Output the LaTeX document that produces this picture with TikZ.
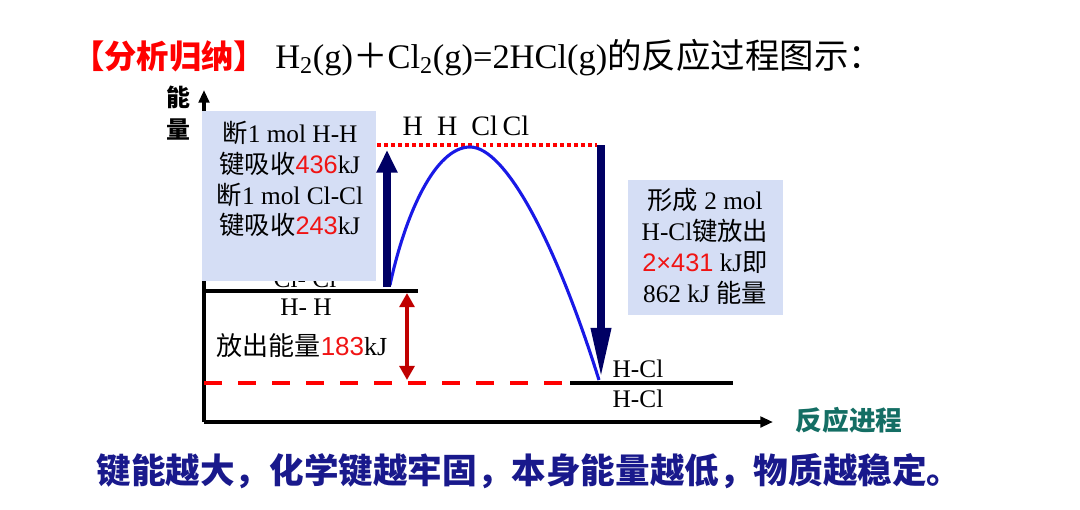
\documentclass[tikz,border=0pt]{standalone}
\usepackage{fontspec}
\setmainfont{Liberation Serif}
\newfontfamily\cjk{Noto Sans CJK SC}
\newfontfamily\numfont{Liberation Sans}
\usepackage{tikz}
\usetikzlibrary{positioning}
\usetikzlibrary{arrows.meta}
\definecolor{boxblue}{RGB}{213,222,245}
\definecolor{navy}{RGB}{0,0,100}
\definecolor{curveblue}{RGB}{25,25,230}
\definecolor{darkred}{RGB}{192,0,0}
\definecolor{valred}{RGB}{240,20,20}
\definecolor{stepteal}{RGB}{20,110,100}
\definecolor{notenavy}{RGB}{25,25,140}
\newcommand\redval[1]{{\numfont\color{valred}#1}}
\tikzset{
  txt/.style = {inner sep=0pt, font=\fontsize{18}{22}\selectfont},
  boxtxt/.style = {txt, align=center},
  infobox/.style = {fill=boxblue, draw=none},% light blue panel
  level/.style = {line width=2.8pt, black},% energy level
  axis/.style = {line width=2.6pt, black,
    -{Triangle[length=9pt,width=7.5pt]}},
  bigarrow/.style = {navy, line width=6pt},
  gap/.style = {darkred, line width=2.8pt,
    {Triangle[length=10pt,width=10.5pt]}-{Triangle[length=10pt,width=10.5pt]}}
}
\begin{document}
\begin{tikzpicture}[x=0.025cm,y=-0.025cm]
\useasboundingbox (0,0) rectangle (1080,509);
% points of the diagram
\coordinate (origin) at (204,422);
\coordinate (ytop) at (204,90);
\coordinate (xend) at (773,422);
\coordinate (reactL) at (204,291);
\coordinate (reactR) at (418,291);
\coordinate (dashL) at (204,383);
\coordinate (prodL) at (570,383);
\coordinate (prodR) at (733,383);
\coordinate (atomL) at (363,145);
\coordinate (atomR) at (597,145);
\coordinate (upS) at (387,287);
\coordinate (upT) at (387,150);
\coordinate (downS) at (601,145);
\coordinate (downT) at (601,380);
\coordinate (gapT) at (407,293);
\coordinate (gapB) at (407,380);
\coordinate (curveS) at (390,285);
\coordinate (peak) at (470,147);
\coordinate (curveE) at (599,380);

% title
\node[txt, anchor=base west, font=\fontsize{23}{27}\selectfont\cjk\bfseries,
  text=red] (tag) at (72,68) {【分析归纳】};
\node[txt, base right=6pt of tag, font=\fontsize{24.5}{28}\selectfont] (title)
  {H\textsubscript{2}(g){\cjk ＋}Cl\textsubscript{2}(g)=2HCl(g){\cjk 的反应过程图示：}};

% axes
\draw[axis] (origin) -- (ytop);
\draw[axis] (origin) -- (xend);
\node[txt, font=\fontsize{17}{20}\selectfont\cjk\bfseries] (ylab1) at (178,97) {能};
\node[txt, font=\fontsize{17}{20}\selectfont\cjk\bfseries] (ylab2) at (178,129) {量};
\node[txt, font=\fontsize{19}{22}\selectfont\cjk\bfseries, text=stepteal]
  (xlab) at (849,420) {反应进程};

% levels
\node[txt, anchor=base] (clcl) at (305,287) {Cl- Cl};
\draw[level] (reactL) -- (reactR);
\node[txt, anchor=base] (hh) at (306,315) {H- H};
\draw[red, line width=2.8pt, dash pattern=on 12.8pt off 11.4pt] (dashL) -- (prodL);
\draw[level] (prodL) -- (prodR);
\node[txt, anchor=base] (hcl1) at (638,377) {H-Cl};
\node[txt, anchor=base] (hcl2) at (638,407) {H-Cl};
\draw[red, line width=2.8pt, dash pattern=on 2.8pt off 2.2pt] (atomL) -- (atomR);
\node[txt, anchor=base, font=\fontsize{20}{24}\selectfont] (atoms) at (466,135)
  {H\,\,\,H\,\,\,Cl\,Cl};

% released energy
\draw[gap] (gapT) -- (gapB);
\node[txt, anchor=base, font=\fontsize{18.5}{22}\selectfont] (heat) at (302,355)
  {{\cjk 放出能量}\redval{183}kJ};

% reaction path
\draw[curveblue, line width=2.2pt] (curveS) .. controls (405,215) and (435,147) .. (peak)
  .. controls (505,147) and (555,240) .. (curveE);

% left panel
\fill[infobox] (202,111) rectangle (376,281);
\node[boxtxt] (breakbox) at (290,179)
  {{\cjk 断}1 mol H-H\\ {\cjk 键吸收}\redval{436}kJ\\
   {\cjk 断}1 mol Cl-Cl\\ {\cjk 键吸收}\redval{243}kJ};
\draw[bigarrow, -{Triangle[length=16pt,width=14pt]}] (upS) -- (upT);
\draw[bigarrow, -{Triangle[length=37pt,width=13pt]}] (downS) -- (downT);

% right panel
\fill[infobox] (628,180) rectangle (783,315);
\node[boxtxt] (formbox) at (705,246)
  {{\cjk 形成} 2 mol\\ H-Cl{\cjk 键放出}\\ \redval{2×431} kJ{\cjk 即}\\
   862 kJ {\cjk 能量}};

% conclusion
\node[txt, font=\fontsize{24.6}{29}\selectfont\cjk\bfseries, text=notenavy]
  (note) at (529,471) {键能越大，化学键越牢固，本身能量越低，物质越稳定。};
\end{tikzpicture}
\end{document}
